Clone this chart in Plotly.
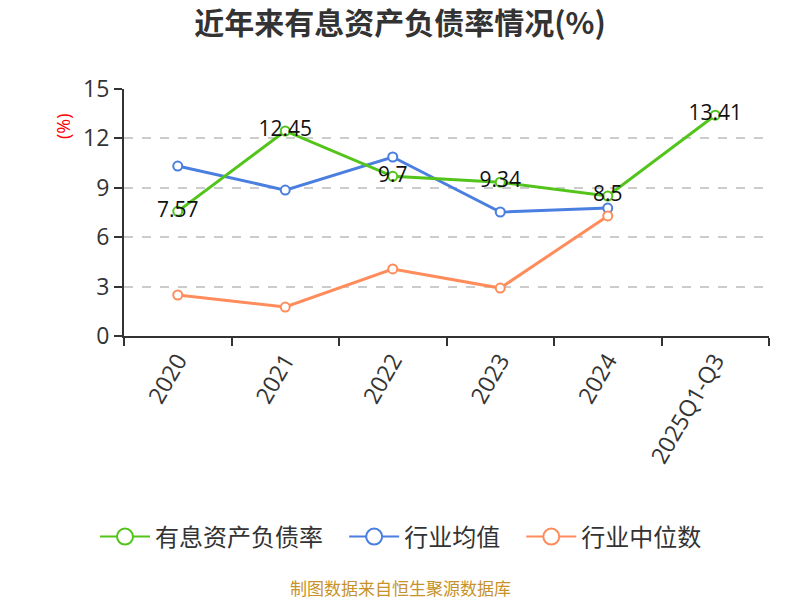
import plotly.graph_objects as go

categories = ["2020", "2021", "2022", "2023", "2024", "2025Q1-Q3"]
debt_ratio = [7.57, 12.45, 9.7, 9.34, 8.5, 13.41]
industry_avg = [10.32, 8.86, 10.87, 7.53, 7.77]
industry_median = [2.49, 1.76, 4.07, 2.91, 7.29]
y_ticks = [0, 3, 6, 9, 12, 15]

FONT = "Open Sans, Noto Sans CJK SC, sans-serif"
CJK = "Noto Sans CJK SC, sans-serif"
PAD = "\u00a0\u00a0\u00a0"

series = [
    ("行业均值", industry_avg, "#4A7FE0", None, 3),
    ("行业中位数", industry_median, "#FF8C5A", None, 4),
    ("有息资产负债率", debt_ratio, "#52C41A", [str(v) for v in debt_ratio], 2),
]

fig = go.Figure()
for name, y, color, text, rank in series:
    fig.add_trace(go.Scatter(
        x=categories[:len(y)], y=y, name=name, showlegend=False,
        mode="lines+markers+text" if text else "lines+markers",
        line=dict(color=color, width=3),
        marker=dict(symbol="circle", size=9, color="white",
                    line=dict(color=color, width=2)),
        text=text, textposition="middle center",
        textfont=dict(size=21, color="#111", family=FONT),
        cliponaxis=False,
    ))
    # legend-only proxy with a larger open circle
    fig.add_trace(go.Scatter(
        x=[None], y=[None], name=name + (PAD if rank < 4 else ""), mode="lines+markers",
        line=dict(color=color, width=2),
        marker=dict(symbol="circle", size=16, color="white",
                    line=dict(color=color, width=2)),
        legendrank=rank, hoverinfo="skip",
    ))

fig.update_layout(
    width=800, height=600,
    margin=dict(l=124, r=31, t=89, b=264),
    paper_bgcolor="white", plot_bgcolor="white",
    font=dict(family=FONT, color="#333"),
    title=dict(text="<b>近年来有息资产负债率情况(%)</b>", x=0.5, xanchor="center",
               y=1 - 23 / 600, yanchor="middle",
               font=dict(size=30, color="#333", family=CJK)),
    showlegend=True,
    legend=dict(orientation="h", x=(401 - 124) / 645, xanchor="center", y=(336 - 537) / 247,
                yanchor="middle",
                font=dict(size=24, color="#333", family=CJK),
                itemsizing="trace", itemwidth=50),
    xaxis=dict(
        type="category", categoryorder="array", categoryarray=categories,
        tickangle=-60, tickfont=dict(size=23, color="#333"),
        showline=True, linecolor="#333", linewidth=2,
        ticks="outside", ticklen=8, tickwidth=2, tickcolor="#333",
        tickson="boundaries", showgrid=False, range=[-0.5, 5.5],
    ),
    yaxis=dict(
        range=[0, 15], tickvals=y_ticks, tickfont=dict(size=23, color="#333"),
        showline=True, linecolor="#333", linewidth=2,
        ticks="outside", ticklen=8, tickwidth=2, tickcolor="#333",
        showgrid=True, gridcolor="#ccc", griddash="dash", gridwidth=1.5,
        zeroline=False,
    ),
    annotations=[
        dict(text="(%)", xref="paper", yref="paper", x=(63 - 124) / 645, y=(336 - 126) / 247,
             xanchor="center", yanchor="middle",
             showarrow=False, textangle=-90, font=dict(size=18, color="red", family=FONT)),
        dict(text="制图数据来自恒生聚源数据库", xref="paper", yref="paper",
             x=(400 - 124) / 645, y=(336 - 587) / 247, xanchor="center",
             yanchor="middle", showarrow=False,
             font=dict(size=17, color="#C8922A", family=CJK)),
    ],
)

fig.write_html("out.html")
